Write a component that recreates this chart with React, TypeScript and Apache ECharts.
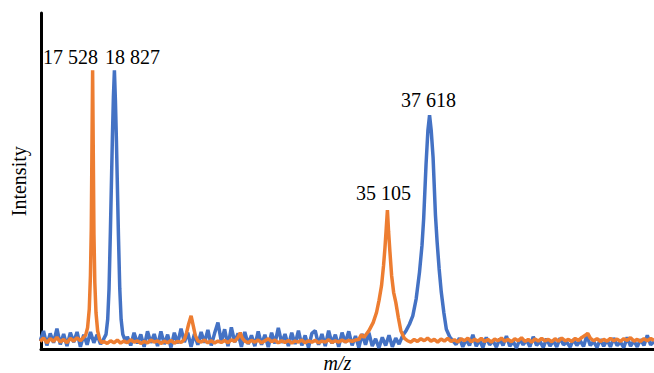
import React, { useEffect, useRef } from "react";
import * as echarts from "echarts";

// Blue spectrum: [m/z, intensity]
const blueSpectrum: [number, number][] = [
  [14400, 2.5], [14600, 5.5], [14800, 1.2], [15000, 4.8], [15200, 2.0], [15400, 6.2], [15600, 1.5],
  [15800, 4.6], [16000, 1.0], [16200, 5.0], [16400, 2.2], [16600, 5.2], [16800, 0.8], [17000, 4.4],
  [17200, 1.4], [17400, 5.2], [17600, 2.0], [17800, 4.4], [18000, 1.6],
  [18127, 2.5], [18327, 4.5], [18427, 9], [18507, 18], [18587, 35], [18707, 63], [18767, 75],
  [18827, 83], [18887, 74], [18947, 62], [19067, 34], [19147, 18], [19227, 9], [19327, 4.5], [19527, 2],
  [19600, 3.8], [19800, 1.2], [20000, 5.0], [20200, 1.8], [20400, 4.5], [20600, 0.8], [20800, 5.4],
  [21000, 2.0], [21200, 4.6], [21400, 1.0], [21600, 5.4], [21800, 1.6], [22000, 4.4], [22200, 0.6],
  [22400, 5.0], [22600, 1.8], [22800, 6.2], [23000, 2.2], [23200, 5.0], [23400, 0.8], [23600, 4.6],
  [23800, 1.4], [24000, 5.2], [24200, 2.0], [24400, 5.8], [24600, 1.2], [24800, 4.8], [25000, 8.0],
  [25200, 2.4], [25400, 6.0], [25600, 1.0], [25800, 6.6], [26000, 2.2], [26200, 4.8], [26400, 0.8],
  [26600, 5.2], [26800, 1.6], [27000, 4.2], [27200, 1.0], [27400, 5.4], [27600, 1.4], [27800, 4.4],
  [28000, 0.7], [28200, 5.0], [28400, 1.8], [28600, 6.4], [28800, 2.0], [29000, 4.6], [29200, 1.0],
  [29400, 5.0], [29600, 1.6], [29800, 5.6], [30000, 1.2], [30200, 4.2], [30400, 0.6], [30600, 4.8],
  [30800, 5.6], [31000, 1.4], [31200, 4.6], [31400, 1.0], [31600, 5.6], [31800, 1.8], [32000, 4.4],
  [32200, 0.8], [32400, 5.0], [32600, 2.0], [32800, 5.4], [33000, 1.2], [33200, 4.0], [33400, 0.6],
  [33600, 4.6], [33800, 1.4], [34000, 5.0], [34200, 1.0], [34400, 3.2], [34600, 0.5], [34800, 3.6],
  [35000, 1.2], [35200, 4.2], [35400, 0.8], [35600, 3.4], [35800, 1.6],
  [36018, 4.2], [36218, 5.6], [36418, 7.5], [36618, 10], [36818, 15], [37018, 23], [37168, 31],
  [37268, 39], [37408, 55], [37518, 65], [37618, 69.6], [37718, 65], [37828, 57], [37968, 40],
  [38068, 32], [38188, 24], [38318, 17], [38468, 11], [38618, 6], [38818, 3.8], [39018, 2.5],
  [39200, 1.5], [39400, 3.4], [39600, 0.8], [39800, 3.0], [40000, 1.2], [40200, 4.4], [40400, 1.0],
  [40600, 2.8], [40800, 0.6], [41000, 3.6], [41200, 1.4], [41400, 2.6], [41600, 0.7], [41800, 3.2],
  [42000, 1.2], [42200, 4.0], [42400, 1.0], [42600, 2.4], [42800, 0.5], [43000, 3.0], [43200, 1.4],
  [43400, 2.8], [43600, 0.8], [43800, 3.8], [44000, 1.2], [44200, 2.4], [44400, 0.6], [44600, 3.2],
  [44800, 1.0], [45000, 2.6], [45200, 0.8], [45400, 3.4], [45600, 1.4], [45800, 2.2], [46000, 0.7],
  [46200, 3.0], [46400, 1.2], [46600, 2.6], [46800, 0.9], [47000, 4.2], [47200, 1.2], [47400, 2.4],
  [47600, 0.6], [47800, 3.0], [48000, 1.0], [48200, 2.8], [48400, 0.8], [48600, 3.4], [48800, 1.2],
  [49000, 2.2], [49200, 0.6], [49400, 3.6], [49600, 1.0], [49800, 2.6], [50000, 0.8], [50200, 3.0],
  [50400, 1.2], [50600, 4.2], [50800, 1.4], [51000, 2.4],
];

// Orange spectrum: [m/z, intensity]
const orangeSpectrum: [number, number][] = [
  [14400, 2.4], [14600, 3.4], [14800, 2.0], [15000, 3.2], [15200, 2.4], [15400, 3.6], [15600, 2.2],
  [15800, 3.0], [16000, 2.0], [16200, 3.3], [16400, 2.5], [16600, 3.5], [16800, 2.6], [16950, 3.4],
  [17108, 4.2], [17228, 6.5], [17328, 12], [17398, 22], [17448, 36], [17488, 60], [17528, 83],
  [17568, 58], [17608, 34], [17658, 20], [17728, 11], [17828, 5.5], [17948, 3], [18078, 2],
  [18200, 2.4], [18400, 1.8], [18600, 2.6], [18800, 2.0], [19000, 2.8], [19200, 1.9], [19400, 2.5],
  [19600, 2.0], [19800, 2.9], [20000, 2.2], [20200, 2.6], [20400, 1.8], [20600, 2.4], [20800, 2.0],
  [21000, 2.8], [21200, 2.2], [21400, 2.6], [21600, 1.8], [21800, 2.5], [22000, 2.0], [22200, 2.7],
  [22400, 1.9], [22600, 2.4], [22800, 2.1], [23000, 3.0], [23130, 5.0], [23250, 7.5], [23400, 10],
  [23530, 7.0], [23650, 4.2], [23800, 2.6], [24000, 2.2], [24200, 2.8], [24400, 2.0], [24600, 2.6],
  [24800, 1.9], [25000, 2.5], [25200, 2.1], [25400, 2.7], [25600, 2.0], [25800, 2.9], [26000, 2.4],
  [26200, 3.6], [26330, 5.0], [26450, 3.4], [26600, 2.5], [26800, 2.0], [27000, 2.7], [27200, 2.2],
  [27400, 2.8], [27600, 2.0], [27800, 2.6], [28000, 3.2], [28200, 2.3], [28400, 2.8], [28600, 2.0],
  [28800, 2.6], [29000, 2.1], [29200, 2.7], [29400, 1.9], [29600, 2.5], [29800, 2.2], [30000, 2.8],
  [30200, 2.0], [30400, 2.6], [30600, 2.2], [30800, 2.7], [31000, 2.0], [31200, 2.5], [31400, 2.2],
  [31600, 2.9], [31800, 2.1], [32000, 2.6], [32200, 2.2], [32400, 2.8], [32600, 2.3], [32800, 2.7],
  [33000, 2.4], [33200, 2.8],
  [33405, 3.0], [33555, 4.4], [33705, 3.6], [33855, 4.6], [34005, 5.6], [34255, 8], [34455, 11],
  [34605, 14.6], [34755, 19], [34875, 25], [34955, 30], [35035, 36], [35105, 41.4], [35175, 35],
  [35255, 29], [35355, 22], [35475, 17], [35605, 14], [35755, 9.5], [35905, 5.6], [36105, 3.4],
  [36305, 2.6],
  [36500, 2.2], [36700, 3.0], [36900, 2.4], [37100, 3.2], [37300, 2.6], [37500, 3.4], [37700, 2.5],
  [37900, 3.0], [38100, 2.2], [38300, 3.1], [38500, 2.5], [38700, 3.3], [38900, 2.4], [39100, 2.9],
  [39300, 2.2], [39500, 3.2], [39700, 2.6], [39900, 3.4], [40100, 2.3], [40300, 3.0], [40500, 2.5],
  [40700, 3.3], [40900, 2.4], [41100, 3.0], [41300, 2.2], [41500, 3.1], [41700, 2.6], [41900, 3.4],
  [42100, 2.5], [42300, 3.0], [42500, 2.3], [42700, 3.2], [42900, 2.6], [43100, 3.5], [43300, 2.4],
  [43500, 3.0], [43700, 2.2], [43900, 3.1], [44100, 2.5], [44300, 3.3], [44500, 2.6], [44700, 3.0],
  [44900, 2.3], [45100, 3.2], [45300, 2.5], [45500, 3.4], [45700, 2.6], [45900, 3.0], [46100, 2.4],
  [46300, 3.3], [46500, 2.7], [46700, 3.6], [46900, 4.2], [47050, 4.8], [47200, 3.4], [47400, 2.6],
  [47600, 3.2], [47800, 2.4], [48000, 3.0], [48200, 2.5], [48400, 3.3], [48600, 2.6], [48800, 3.1],
  [49000, 2.4], [49200, 3.2], [49400, 2.7], [49600, 3.5], [49800, 2.5], [50000, 3.0], [50200, 2.4],
  [50400, 3.2], [50600, 2.6], [50800, 3.3], [51000, 2.7],
];

// Peak annotations
const bluePeakMz = [18827, 37618];
const bluePeakTop = [83, 69.6];
const bluePeakText = ["18 827", "37 618"];
const orangePeakMz = [17528, 35105];
const orangePeakTop = [83, 41.4];
const orangePeakText = ["17 528", "35 105"];

const xAxisName = "m/z";
const yAxisName = "Intensity";

const FONT = "'Liberation Serif', 'Times New Roman', serif";
const BLUE = "#4472C4";
const ORANGE = "#ED7D31";

const blueOffsets = [[18, -13], [-1, -15]];
const orangeOffsets = [[-22, -13], [-4, -17]];

function peakMarks(mz: number[], top: number[], text: string[], offsets: number[][]) {
  return mz.map((m, i) => ({
    name: text[i],
    coord: [m, top[i]],
    label: { offset: offsets[i] },
  }));
}

export default function App() {
  const ref = useRef<HTMLDivElement>(null);
  useEffect(() => {
    if (!ref.current) return;
    const chart = echarts.init(ref.current, undefined, { renderer: "svg" });
    const markPointBase = {
      symbol: "circle",
      symbolSize: 0,
      silent: true,
      label: {
        show: true,
        position: "inside",
        formatter: "{b}",
        color: "#000",
        fontFamily: FONT,
        fontSize: 20,
      },
    };
    chart.setOption({
      animation: false,
      backgroundColor: "#fff",
      grid: { left: 41, right: 0, top: 13, bottom: 23.5, outerBoundsMode: "none" },
      xAxis: {
        type: "value",
        min: 14450,
        max: 51000,
        name: xAxisName,
        nameLocation: "middle",
        nameGap: 3,
        nameTextStyle: {
          fontFamily: FONT,
          fontSize: 20,
          fontStyle: "italic",
          color: "#000",
          padding: [0, 20, 0, 0],
        },
        axisLine: { show: true, onZero: false, lineStyle: { color: "#000", width: 3 } },
        axisTick: { show: false },
        axisLabel: { show: false },
        splitLine: { show: false },
      },
      yAxis: {
        type: "value",
        min: 0,
        max: 100,
        name: yAxisName,
        nameLocation: "middle",
        nameGap: 12,
        nameTextStyle: { fontFamily: FONT, fontSize: 20, color: "#000" },
        axisLine: { show: true, lineStyle: { color: "#000", width: 3 } },
        axisTick: { show: false },
        axisLabel: { show: false },
        splitLine: { show: false },
      },
      series: [
        {
          type: "line",
          data: blueSpectrum,
          showSymbol: false,
          symbol: "none",
          lineStyle: { color: BLUE, width: 3.5 },
          itemStyle: { color: BLUE },
          z: 2,
          markPoint: { ...markPointBase, data: peakMarks(bluePeakMz, bluePeakTop, bluePeakText, blueOffsets) },
        },
        {
          type: "line",
          data: orangeSpectrum,
          showSymbol: false,
          symbol: "none",
          lineStyle: { color: ORANGE, width: 3.5 },
          itemStyle: { color: ORANGE },
          z: 3,
          markPoint: { ...markPointBase, data: peakMarks(orangePeakMz, orangePeakTop, orangePeakText, orangeOffsets) },
        },
      ],
    });
    return () => chart.dispose();
  }, []);
  return (
    <div
      ref={ref}
      style={{ position: "fixed", left: 0, top: 0, width: 654, height: 373, background: "#fff" }}
    />
  );
}
